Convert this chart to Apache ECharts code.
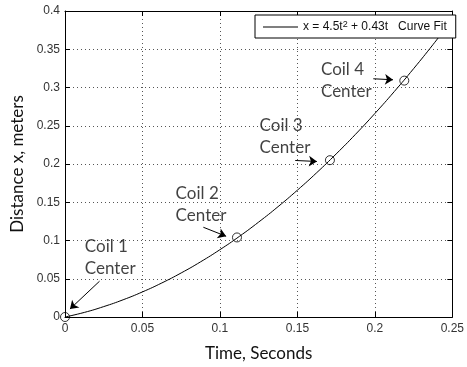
<!DOCTYPE html>
<html>
<head>
<meta charset="utf-8">
<script src="https://cdn.jsdelivr.net/npm/echarts@6/dist/echarts.min.js"></script>
<style>
  * { margin: 0; padding: 0; }
  body { background: #fff; }
</style>
</head>
<body>
<!--为echarts准备一个具备大小的容器dom-->
<div id="main" style="width:467px;height:367px;"></div>
<script>
  // curve fit x = 4.5t^2 + 0.43t
  var timeValues = [0, 0.0125, 0.025, 0.0375, 0.05, 0.0625, 0.075, 0.0875, 0.1, 0.1125, 0.125,
    0.1375, 0.15, 0.1625, 0.175, 0.1875, 0.2, 0.2125, 0.225, 0.2375, 0.25];
  var distValues = [0, 0.006, 0.0136, 0.0225, 0.0328, 0.0445, 0.0576, 0.0721, 0.088, 0.1053, 0.1241,
    0.1442, 0.1658, 0.1887, 0.2131, 0.2388, 0.266, 0.2946, 0.3246, 0.356, 0.3888];
  // coil centers (open circles)
  var coilT = [0, 0.111, 0.171, 0.219];
  var coilX = [0, 0.104, 0.205, 0.309];
  // annotation text anchors and arrows
  var coilNames = ['Coil 1\nCenter', 'Coil 2\nCenter', 'Coil 3\nCenter', 'Coil 4\nCenter'];
  var labelAt = [[0.0128, 0.1068], [0.0714, 0.1759], [0.1256, 0.2645], [0.1652, 0.3375]];
  var arrowFrom = [[0.0223, 0.0468], [0.0893, 0.1173], [0.1486, 0.2046], [0.199, 0.3114]];
  var arrowTo = [[0.0032, 0.0104], [0.104, 0.1055], [0.1626, 0.2033], [0.2117, 0.3101]];

  var tickFont = { fontFamily: 'Arial, "Liberation Sans", sans-serif', fontSize: 12, color: '#333' };
  var gridLine = { show: true, lineStyle: { color: '#555', type: [1, 3], width: 1 } };

  var curve = timeValues.map(function (t, i) { return [t, distValues[i]]; });
  var coils = coilT.map(function (t, i) { return [t, coilX[i]]; });
  var labels = labelAt.map(function (p, i) { return { value: p, name: coilNames[i] }; });
  var arrows = arrowFrom.map(function (p, i) { return [{ coord: p }, { coord: arrowTo[i] }]; });

  var chart = echarts.init(document.getElementById('main'));
  chart.setOption({
    animation: false,
    backgroundColor: '#fff',
    grid: { left: 65, right: 10, top: 11, bottom: 49 },
    legend: {
      data: [{ name: 'fit', icon: 'rect' }],
      left: 255,
      top: 15,
      padding: [5, 9, 5, 8],
      backgroundColor: '#fff',
      borderColor: '#000',
      borderWidth: 1,
      borderRadius: 0,
      itemWidth: 35,
      itemHeight: 1,
      itemGap: 5,
      itemStyle: { color: '#000' },
      formatter: function () { return '{a|x = 4.5t}{s|2}{a| + 0.43t   Curve Fit}'; },
      textStyle: {
        fontFamily: 'Arial, "Liberation Sans", sans-serif', fontSize: 12, color: '#111',
        rich: {
          a: { fontFamily: 'Arial, "Liberation Sans", sans-serif', fontSize: 12, color: '#111', lineHeight: 14 },
          s: { fontFamily: 'Arial, "Liberation Sans", sans-serif', fontSize: 9, color: '#111', lineHeight: 9, verticalAlign: 'top' }
        }
      }
    },
    xAxis: [{
      type: 'value', min: 0, max: 0.25, interval: 0.05,
      name: 'Time, Seconds', nameLocation: 'middle', nameGap: 28,
      nameTextStyle: { fontFamily: 'Lato, sans-serif', fontSize: 17, color: '#111' },
      axisLine: { show: true, onZero: false, lineStyle: { color: '#000' } },
      axisTick: { show: true, inside: true, length: 5, lineStyle: { color: '#000' } },
      axisLabel: Object.assign({ margin: 6 }, tickFont),
      splitLine: gridLine
    }, {
      type: 'value', min: 0, max: 0.25, interval: 0.05, position: 'top',
      axisLine: { show: true, onZero: false, lineStyle: { color: '#000' } },
      axisTick: { show: true, inside: true, length: 5, lineStyle: { color: '#000' } },
      axisLabel: { show: false }, splitLine: { show: false }
    }],
    yAxis: [{
      type: 'value', min: 0, max: 0.4, interval: 0.05,
      name: 'Distance x, meters', nameLocation: 'middle', nameGap: 37,
      nameTextStyle: { fontFamily: 'Lato, sans-serif', fontSize: 17, color: '#111' },
      axisLine: { show: true, onZero: false, lineStyle: { color: '#000' } },
      axisTick: { show: true, inside: true, length: 5, lineStyle: { color: '#000' } },
      axisLabel: Object.assign({ margin: 5 }, tickFont),
      splitLine: gridLine
    }, {
      type: 'value', min: 0, max: 0.4, interval: 0.05, position: 'right',
      axisLine: { show: true, onZero: false, lineStyle: { color: '#000' } },
      axisTick: { show: true, inside: true, length: 5, lineStyle: { color: '#000' } },
      axisLabel: { show: false }, splitLine: { show: false }
    }],
    series: [{
      name: 'fit',
      type: 'line',
      data: curve,
      smooth: true,
      symbol: 'none',
      lineStyle: { color: '#000', width: 1 },
      itemStyle: { color: '#000' },
      markLine: {
        silent: true,
        symbol: ['none', 'arrow'],
        symbolSize: 8,
        label: { show: false },
        lineStyle: { color: '#000', width: 1, type: 'solid' },
        itemStyle: { color: '#000' },
        data: arrows
      }
    }, {
      name: 'coils',
      type: 'scatter',
      data: coils,
      symbol: 'circle',
      symbolSize: 9,
      itemStyle: { color: 'rgba(0,0,0,0)', borderColor: '#000', borderWidth: 1 }
    }, {
      name: 'labels',
      type: 'scatter',
      data: labels,
      symbolSize: 0,
      silent: true,
      label: {
        show: true,
        position: [0, 0],
        align: 'left',
        verticalAlign: 'top',
        formatter: '{b}',
        fontFamily: 'Lato, sans-serif',
        fontSize: 17,
        lineHeight: 22,
        color: '#111'
      }
    }]
  });
</script>
</body>
</html>
